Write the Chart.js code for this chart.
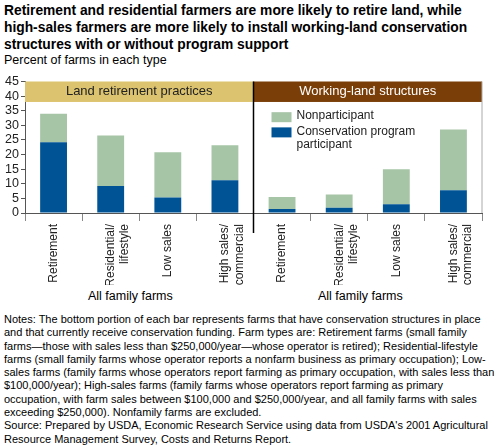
<!DOCTYPE html>
<html><head><meta charset="utf-8">
<script src="https://cdn.jsdelivr.net/npm/chart.js@4"></script>
<style>
body{margin:0;width:497px;height:446px;background:#fff;font-family:Arial,"Liberation Sans",sans-serif;position:relative;overflow:hidden}
#t{position:absolute;left:4px;top:2px;width:490px;font-weight:bold;font-size:13.8px;line-height:17px;color:#000}
#u{position:absolute;left:4px;top:53px;font-size:12.5px}
#c{position:absolute;left:0;top:72px;width:490px;height:213px}
.ff{position:absolute;top:289px;font-size:12.5px}
#n{position:absolute;left:4px;top:313px;width:492px;font-size:11px;line-height:13.3px}
</style></head><body>
<div id="t">Retirement and residential farmers are more likely to retire land, while high-sales farmers are more likely to install working-land conservation structures with or without program support</div>
<div id="u">Percent of farms in each type</div>
<div id="c"><canvas id="cv"></canvas></div>
<div class="ff" style="left:88px">All family farms</div>
<div class="ff" style="left:318px">All family farms</div>
<div id="n">Notes: The bottom portion of each bar represents farms that have conservation structures in place and that currently receive conservation funding. Farm types are: Retirement farms (small family farms—those with sales less than $250,000/year—whose operator is retired); Residential-lifestyle farms (small family farms whose operator reports a nonfarm business as primary occupation); Low-sales farms (family farms whose operators report farming as primary occupation, with sales less than $100,000/year); High-sales farms (family farms whose operators report farming as primary occupation, with farm sales between $100,000 and $250,000/year, and all family farms with sales exceeding $250,000). Nonfamily farms are excluded.<br>Source: Prepared by USDA, Economic Research Service using data from USDA's 2001 Agricultural Resource Management Survey, Costs and Returns Report.</div>
<script>
const categories=[["Retirement"],["Residential/","lifestyle"],["Low sales"],["High sales/","commercial"],["Retirement"],["Residential/","lifestyle"],["Low sales"],["High sales/","commercial"]];
const participant=[24.2,9.2,5.3,11.2,1.4,1.8,3.0,7.8];
const totals=[34,26.5,20.8,23.2,5.5,6.3,15,28.6];
const nonparticipant=totals.map((t,i)=>+(t-participant[i]).toFixed(1));
const panels=["Land retirement practices","Working-land structures"];
const yTicks=[0,5,10,15,20,25,30,35,40,45];
const deco={id:'deco',afterDatasetsDraw(ch){
 const {ctx,chartArea:a,scales:{x,y}}=ch;const mid=(a.left+a.right)/2;
 const y1=y.getPixelForValue(45),y0=y.getPixelForValue(38);
 ctx.save();
 ctx.fillStyle='#dcc36f';ctx.fillRect(a.left,y1,mid-a.left,y0-y1);
 ctx.fillStyle='#7a3e08';ctx.fillRect(mid,y1,a.right-mid,y0-y1);
 ctx.font='13px Arial';ctx.textAlign='center';ctx.textBaseline='middle';
 ctx.fillStyle='#222';ctx.fillText(panels[0],(a.left+mid)/2,(y0+y1)/2);
 ctx.fillStyle='#fff';ctx.fillText(panels[1],(mid+a.right)/2,(y0+y1)/2);
 ctx.strokeStyle='#000';ctx.lineWidth=1.5;ctx.beginPath();ctx.moveTo(mid,a.top);ctx.lineTo(mid,a.bottom+20);ctx.stroke();
 ctx.strokeStyle='#aaa';ctx.lineWidth=1;ctx.beginPath();ctx.moveTo(a.right,a.top);ctx.lineTo(a.right,a.bottom);ctx.stroke();
 ctx.textAlign='left';ctx.fillStyle='#a6c4a6';ctx.fillRect(mid+18,y.getPixelForValue(34.5),20,10);
 ctx.fillStyle='#005495';ctx.fillRect(mid+18,y.getPixelForValue(29.3),20,10);
 ctx.fillStyle='#222';ctx.font='12px Arial';ctx.textBaseline='middle';
 ctx.fillText('Nonparticipant',mid+43,y.getPixelForValue(33.2));
 ctx.fillText('Conservation program',mid+43,y.getPixelForValue(27.9));
 ctx.fillText('participant',mid+43,y.getPixelForValue(23.5));
 ctx.restore();}};
new Chart(document.getElementById('cv'),{type:'bar',
 data:{labels:categories,datasets:[
  {label:'Conservation program participant',data:participant,backgroundColor:'#005495'},
  {label:'Nonparticipant',data:nonparticipant,backgroundColor:'#a6c4a6'}]},
 options:{responsive:true,maintainAspectRatio:false,animation:false,
  layout:{padding:{top:8,right:8}},
  plugins:{legend:{display:false},tooltip:{enabled:false}},
  datasets:{bar:{categoryPercentage:1,barPercentage:0.47}},
  scales:{
   x:{stacked:true,afterFit(s){s.height=72;},grid:{offset:true,drawOnChartArea:false,tickLength:8,color:'#888'},border:{color:'#555'},
      ticks:{minRotation:90,maxRotation:90,autoSkip:false,color:'#222',font:{size:12,family:'Arial'}}},
   y:{stacked:true,min:0,max:45,afterFit(s){s.width=25;},afterBuildTicks(s){s.ticks=yTicks.map(v=>({value:v}));},
      grid:{drawOnChartArea:false,tickLength:4,color:'#555'},border:{color:'#555'},
      ticks:{autoSkip:false,color:'#222',padding:2,font:{size:12.5,family:'Arial'}}}}},
 plugins:[deco]});
</script></body></html>
